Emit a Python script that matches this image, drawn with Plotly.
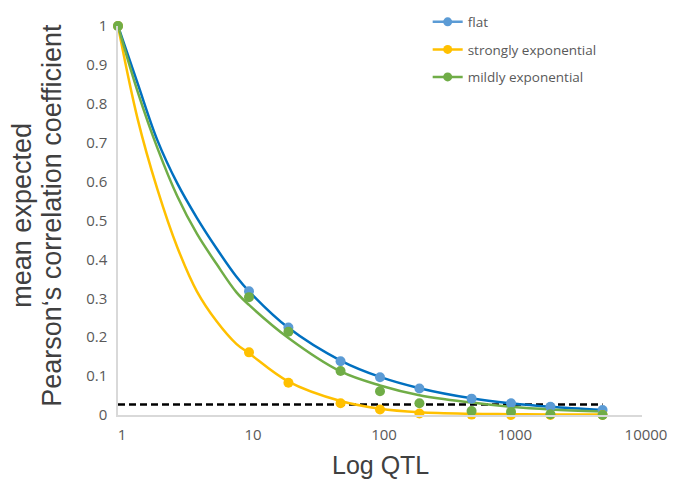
import plotly.graph_objects as go

# measured data points
qtl = [1, 10, 20, 50, 100, 200, 500, 1000, 2000, 5000]
flat = [1.0, 0.318, 0.225, 0.138, 0.097, 0.068, 0.042, 0.030, 0.021, 0.013]
strongly = [1.0, 0.161, 0.083, 0.030, 0.014, 0.004, 0.001, 0.0, 0.0, 0.0]
mildly = [1.0, 0.303, 0.214, 0.113, 0.061, 0.030, 0.010, 0.008, 0.002, 0.0]

# smoothed trend curves
curve_x = [1, 1.41, 2, 2.83, 4, 5.66, 8, 10, 20, 50, 100, 200, 500, 1000, 2000, 5000]
flat_curve_y = [1.0, 0.853, 0.706, 0.596, 0.507, 0.428, 0.356, 0.318, 0.224, 0.140, 0.098, 0.069, 0.043, 0.030, 0.021, 0.013]
strongly_curve_y = [1.0, 0.762, 0.580, 0.432, 0.318, 0.241, 0.183, 0.159, 0.086, 0.036, 0.016, 0.007, 0.003, 0.002, 0.001, 0.001]
mildly_curve_y = [1.0, 0.832, 0.686, 0.563, 0.466, 0.388, 0.316, 0.283, 0.198, 0.112, 0.076, 0.051, 0.032, 0.021, 0.014, 0.009]

threshold_x = [1, 5000]
threshold_y = [0.027, 0.027]
y_ticks = [0, 0.1, 0.2, 0.3, 0.4, 0.5, 0.6, 0.7, 0.8, 0.9, 1]
x_ticks = [1, 10, 100, 1000, 10000]

series = [
    ("flat", flat, flat_curve_y, "#0070C0", "#5B9BD5"),
    ("strongly exponential", strongly, strongly_curve_y, "#FFC000", "#FFC000"),
    ("mildly exponential", mildly, mildly_curve_y, "#70AD47", "#70AD47"),
]

fig = go.Figure()
fig.add_trace(go.Scatter(x=threshold_x, y=threshold_y, mode="lines",
                         line=dict(color="black", width=2.5, dash="7px,4px"),
                         showlegend=False, hoverinfo="skip"))
for name, py, cy, lc, mc in series:
    fig.add_trace(go.Scatter(x=curve_x, y=cy, mode="lines",
                             line=dict(color=lc, width=2.5, shape="spline", smoothing=1.0),
                             showlegend=False, hoverinfo="skip", cliponaxis=False))
for name, py, cy, lc, mc in series:
    fig.add_trace(go.Scatter(x=qtl, y=py, mode="markers", name=name,
                             marker=dict(color=mc, size=10),
                             showlegend=False, cliponaxis=False))
for name, py, cy, lc, mc in series:
    fig.add_trace(go.Scatter(x=[None], y=[None], mode="lines+markers", name=name,
                             legendgroup=name,
                             line=dict(color=mc, width=2.5),
                             marker=dict(color=mc, size=9)))

title_font = dict(family="Liberation Sans, Arial, sans-serif", size=27, color="#404040")
fig.add_annotation(text="mean expected", textangle=-90, showarrow=False,
                   xref="paper", yref="paper", x=(22.6 - 118) / 522, y=0.513,
                   xanchor="center", yanchor="middle", font=title_font)
fig.add_annotation(text="Pearson‘s correlation coefficient", textangle=-90, showarrow=False,
                   xref="paper", yref="paper", x=(52.6 - 118) / 522, y=0.513,
                   xanchor="center", yanchor="middle", font=title_font)
fig.add_annotation(text="Log QTL", showarrow=False,
                   xref="paper", yref="paper", x=(379 - 118) / 522, y=(415 - 465) / 389,
                   xanchor="center", yanchor="middle",
                   font=dict(family="Liberation Sans, Arial, sans-serif", size=25, color="#404040"))

fig.update_layout(
    width=675, height=480,
    margin=dict(l=118, r=33, t=26, b=65, autoexpand=False),
    paper_bgcolor="white", plot_bgcolor="white",
    font=dict(family="Open Sans, Lato, sans-serif", color="#595959"),
    legend=dict(x=0.591, y=1.05, xanchor="left", yanchor="top",
                font=dict(size=13.5, color="#595959"), tracegroupgap=7,
                bgcolor="rgba(0,0,0,0)"),
    xaxis=dict(type="log", range=[0, 4], tickvals=x_ticks,
               ticktext=[str(v) for v in x_ticks],
               showgrid=False, zeroline=False, showline=True,
               linecolor="#D9D9D9", linewidth=1.5, ticks="",
               ticklabelshift=4, ticklabelstandoff=5,
               tickfont=dict(size=15, color="#595959")),
    yaxis=dict(range=[0, 1], tickvals=y_ticks,
               ticktext=[("%g" % v) for v in y_ticks],
               showgrid=False, zeroline=False, showline=True,
               linecolor="#D9D9D9", linewidth=1.5, ticks="",
               ticklabelstandoff=6,
               tickfont=dict(size=15, color="#595959")),
)

fig.write_html("out.html", config={"displayModeBar": False},
               post_script="document.body.style.margin='0';")
